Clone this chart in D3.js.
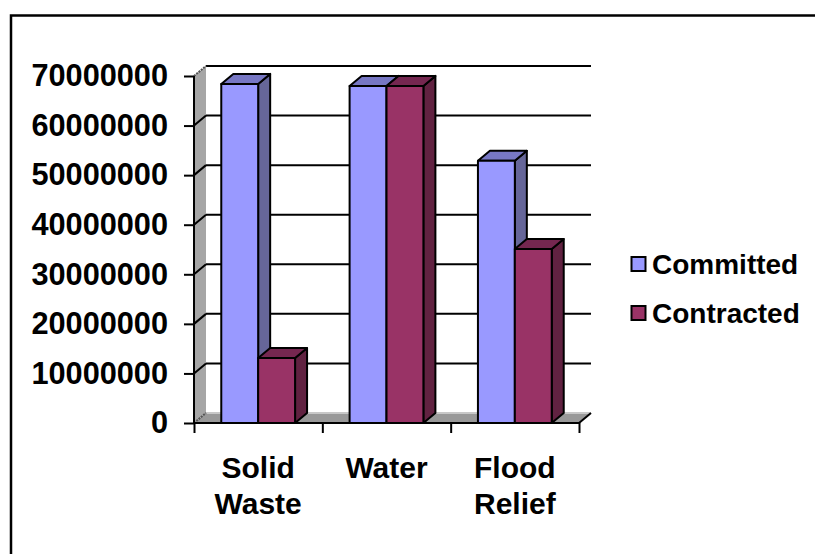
<!DOCTYPE html>
<html>
<head>
<meta charset="utf-8">
<script src="https://d3js.org/d3.v7.min.js"></script>
<style>
    html, body { margin: 0; padding: 0; background: #fff; }
    text { font-family: "Liberation Sans", Arial, sans-serif; font-weight: bold; fill: #000; }
</style>
</head>
<body>
<div id="chart"></div>
<script>
var categories = [["Solid", "Waste"], ["Water"], ["Flood", "Relief"]];
var seriesNames = ["Committed", "Contracted"];
var committed = [68400000, 68000000, 52900000];
var contracted = [13100000, 68000000, 35100000];
var yTicks = [0, 10000000, 20000000, 30000000, 40000000, 50000000, 60000000, 70000000];

var colors = {
    Committed: {front: "#9999ff", top: "#7777c4", side: "#666699"},
    Contracted: {front: "#993366", top: "#752750", side: "#612241"}
};

var width = 815, height = 554;
var left = 194, right = 579, top_ = 76, bottom = 423;
// how far the back wall is pushed away from the front plane
var dx = 12, dy = -10;

var svg = d3.select("#chart").append("svg")
    .attr("width", width)
    .attr("height", height)
    .style("display", "block");

// chart border, only left and top are in the frame
svg.append("path")
    .attr("d", "M11,554V15.5H815")
    .attr("fill", "none")
    .attr("stroke", "#000")
    .attr("stroke-width", 2.5);

var xScale = d3.scaleBand()
    .domain(d3.range(categories.length))
    .range([left, right])
    .paddingInner(0.425)
    .paddingOuter(0.2125);

var xSub = d3.scaleBand()
    .domain(seriesNames)
    .range([0, xScale.bandwidth()]);

var yScale = d3.scaleLinear()
    .domain([0, 70000000])
    .range([bottom, top_]);

function poly(points) {
    return "M" + points.map(function (p) { return p.join(","); }).join("L") + "Z";
}

// side wall
svg.append("path")
    .attr("d", poly([[left, top_], [left + dx, top_ + dy], [left + dx, bottom + dy], [left, bottom]]))
    .attr("fill", "#a6a6a6");

// floor
svg.append("path")
    .attr("d", poly([[left, bottom], [left + dx, bottom + dy], [right + dx, bottom + dy], [right, bottom]]))
    .attr("fill", "#999999");

// gridlines run across the back wall and fold down the side wall
var grid = svg.append("g").selectAll("g")
    .data(yTicks)
    .enter().append("g")
    .attr("fill", "none")
    .attr("stroke-width", 2);

grid.append("path")
    .attr("stroke", function (d) { return d === 0 ? "#c8c8c8" : "#000"; })
    .attr("d", function (d) {
        return "M" + (left + dx) + "," + (yScale(d) + dy) + "H" + (right + dx);
    });

// first and last folds are speckled in the original
grid.append("path")
    .attr("stroke", function (d) { return d === 0 || d === 70000000 ? "#555" : "#000"; })
    .attr("stroke-dasharray", function (d) { return d === 0 || d === 70000000 ? "2,1" : null; })
    .attr("d", function (d) {
        return "M" + left + "," + yScale(d) + "L" + (left + dx) + "," + (yScale(d) + dy);
    });

// end of the floor
svg.append("path")
    .attr("d", "M" + right + "," + bottom + "L" + (right + dx) + "," + (bottom + dy))
    .attr("fill", "none")
    .attr("stroke", "#000")
    .attr("stroke-width", 2);

// bars
var barData = [];
categories.forEach(function (c, i) {
    barData.push({cat: i, series: "Committed", value: committed[i]});
    barData.push({cat: i, series: "Contracted", value: contracted[i]});
});

var bars = svg.append("g").selectAll("g")
    .data(barData)
    .enter().append("g")
    .attr("stroke", "#000")
    .attr("stroke-width", 2)
    .attr("stroke-linejoin", "round");

bars.append("path")
    .attr("fill", function (d) { return colors[d.series].side; })
    .attr("d", function (d) {
        var x1 = xScale(d.cat) + xSub(d.series) + xSub.bandwidth(), y = yScale(d.value);
        return poly([[x1, y], [x1 + dx, y + dy], [x1 + dx, bottom + dy], [x1, bottom]]);
    });

bars.append("path")
    .attr("fill", function (d) { return colors[d.series].top; })
    .attr("d", function (d) {
        var x0 = xScale(d.cat) + xSub(d.series), x1 = x0 + xSub.bandwidth(), y = yScale(d.value);
        return poly([[x0, y], [x0 + dx, y + dy], [x1 + dx, y + dy], [x1, y]]);
    });

bars.append("rect")
    .attr("fill", function (d) { return colors[d.series].front; })
    .attr("x", function (d) { return xScale(d.cat) + xSub(d.series); })
    .attr("y", function (d) { return yScale(d.value); })
    .attr("width", xSub.bandwidth())
    .attr("height", function (d) { return bottom - yScale(d.value); });

// y axis
var yAxis = d3.axisLeft(yScale)
    .tickValues(yTicks)
    .tickFormat(d3.format("d"))
    .tickSize(10)
    .tickPadding(16);

var yG = svg.append("g")
    .attr("transform", "translate(" + left + ",0)")
    .call(yAxis);
yG.selectAll("path, line").attr("stroke", "#000").attr("stroke-width", 2);
yG.select(".domain").attr("d", "M0," + top_ + "V" + bottom);
yG.selectAll("text").style("font-size", "30.7px").attr("font-family", null);

// x axis line and the ticks between groups
var xEdges = d3.scaleLinear().domain([0, categories.length]).range([left, right]);
var xAxis = d3.axisBottom(xEdges)
    .tickValues(d3.range(categories.length + 1))
    .tickFormat("")
    .tickSize(10);

var xG = svg.append("g")
    .attr("transform", "translate(0," + bottom + ")")
    .call(xAxis);
xG.selectAll("path, line").attr("stroke", "#000").attr("stroke-width", 2);
xG.select(".domain").attr("d", "M" + left + ",0H" + right);

// category labels
var catLabels = svg.append("g").selectAll("text")
    .data(categories)
    .enter().append("text")
    .attr("text-anchor", "middle")
    .style("font-size", "30px")
    .attr("x", function (d, i) { return xScale(i) + xScale.bandwidth() / 2; })
    .attr("y", 478);

catLabels.selectAll("tspan")
    .data(function (d) { return d; })
    .enter().append("tspan")
    .attr("x", function () { return d3.select(this.parentNode).attr("x"); })
    .attr("dy", function (d, i) { return i === 0 ? 0 : 36; })
    .text(function (d) { return d; });

// legend
var legendY = d3.scalePoint().domain(seriesNames).range([264, 313]);

var legend = svg.append("g").selectAll("g")
    .data(seriesNames)
    .enter().append("g")
    .attr("transform", function (d) { return "translate(631," + legendY(d) + ")"; });

legend.append("rect")
    .attr("x", 0.5)
    .attr("y", -7)
    .attr("width", 14)
    .attr("height", 14)
    .attr("fill", function (d) { return colors[d].front; })
    .attr("stroke", "#000")
    .attr("stroke-width", 2);

legend.append("text")
    .attr("x", 21)
    .attr("y", 10)
    .style("font-size", "28px")
    .text(function (d) { return d; });
</script>
</body>
</html>
